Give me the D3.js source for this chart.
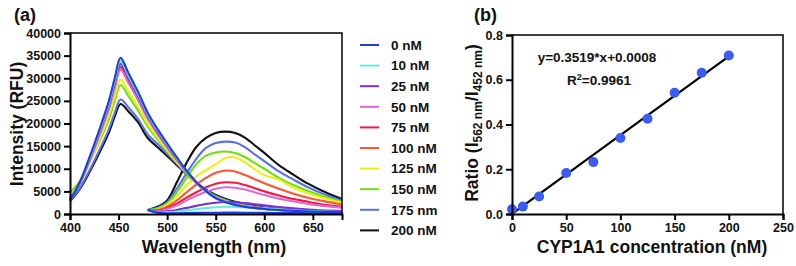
<!DOCTYPE html>
<html>
<head>
<meta charset="utf-8">
<title>Spectra and ratio</title>
<script src="https://d3js.org/d3.v7.min.js"></script>
<style>
  body { margin: 0; background: #fff; font-family: 'Liberation Sans', Arial, sans-serif; }
  .axis path, .axis line { stroke: #000; stroke-width: 2px; }
  .axis text { font-size: 12.5px; font-weight: bold; fill: #111; font-family: 'Liberation Sans', Arial, sans-serif; }
  .frame { fill: none; stroke: #000; stroke-width: 1.5px; }
  .lbl { font-weight: bold; fill: #111; }
  path.spec { fill: none; stroke-width: 2.1px; stroke-linejoin: round; }
</style>
</head>
<body>
<div id="chart"></div>
<script>
// concentrations (legend) and line colours
var concLabels = ["0 nM", "10 nM", "25 nM", "50 nM", "75 nM", "100 nM", "125 nM", "150 nM", "175 nm", "200 nM"];
var concColors = ["#1c3ee0", "#62efd0", "#7a30d0", "#d86ad8", "#ff1444", "#ff5533", "#eeee12", "#6ee012", "#5b6ef0", "#111111"];

// donor band, 400-680 nm
var donorWl = [400, 410, 420, 430, 440, 446, 452, 460, 470, 480, 490, 500, 510, 520, 535, 550, 570, 600, 640, 680];
var donor_0   = [3000, 7000, 12500, 18500, 25000, 30000, 34500, 31200, 27000, 22400, 18800, 15600, 12500, 9600, 6000, 3500, 2000, 1100, 600, 350];
var donor_10  = [3100, 7000, 12300, 18200, 24500, 29400, 33800, 30600, 26500, 22000, 18500, 15300, 12300, 9500, 5900, 3500, 2000, 1100, 620, 360];
var donor_25  = [3200, 6900, 12100, 17900, 24100, 28900, 33200, 30100, 26100, 21700, 18200, 15100, 12200, 9400, 5900, 3500, 2000, 1100, 620, 370];
var donor_50  = [3300, 6800, 11700, 17300, 23200, 27800, 31900, 29000, 25200, 21000, 17700, 14700, 11900, 9300, 5900, 3600, 2100, 1150, 640, 380];
var donor_75  = [3200, 6800, 11900, 17600, 23700, 28400, 32600, 29600, 25700, 21400, 18000, 14900, 12000, 9300, 5900, 3500, 2050, 1120, 630, 370];
var donor_100 = [3400, 6900, 11800, 17400, 23400, 28000, 32100, 29200, 25400, 21200, 17800, 14800, 12000, 9300, 5900, 3600, 2100, 1150, 640, 390];
var donor_125 = [3600, 6700, 11200, 16300, 21700, 26000, 29700, 27100, 23700, 19900, 16900, 14100, 11500, 9100, 5900, 3700, 2200, 1200, 680, 400];
var donor_150 = [4700, 7300, 11300, 15900, 20900, 25000, 28500, 26100, 22900, 19300, 16500, 13800, 11300, 9000, 5900, 3800, 2300, 1250, 700, 420];
var donor_175 = [2900, 5700, 9600, 14000, 18700, 22300, 25300, 23600, 21000, 17600, 15500, 13300, 11100, 8900, 6000, 4000, 2500, 1350, 750, 450];
var donor_200 = [2800, 5500, 9200, 13400, 18000, 21500, 24300, 22700, 20300, 16800, 14800, 12800, 10800, 8800, 6100, 4200, 2700, 1450, 800, 480];

// acceptor band, 480-680 nm
var accWl = [480, 490, 500, 510, 520, 530, 540, 550, 560, 570, 580, 590, 600, 615, 630, 645, 660, 680];
var acc_0   = [900, 300, 150, 170, 200, 240, 270, 290, 300, 300, 290, 270, 250, 220, 200, 180, 160, 150];
var acc_10  = [900, 350, 400, 560, 800, 1050, 1300, 1500, 1600, 1580, 1480, 1330, 1180, 980, 800, 660, 540, 450];
var acc_25  = [900, 450, 600, 900, 1350, 1800, 2200, 2500, 2650, 2600, 2400, 2150, 1900, 1550, 1250, 1000, 800, 650];
var acc_50  = [900, 650, 1100, 1900, 3000, 4000, 4900, 5600, 5900, 5800, 5400, 4800, 4200, 3400, 2800, 2200, 1800, 1400];
var acc_75  = [900, 750, 1300, 2300, 3600, 4800, 5900, 6700, 7000, 6900, 6400, 5700, 5000, 4100, 3300, 2700, 2100, 1600];
var acc_100 = [900, 850, 1600, 3000, 4800, 6500, 8000, 9100, 9600, 9400, 8600, 7700, 6800, 5600, 4500, 3600, 2900, 2100];
var acc_125 = [900, 1000, 2000, 3900, 6300, 8300, 9700, 11000, 12400, 12500, 11400, 9900, 8600, 7600, 5800, 4600, 3600, 2500];
var acc_150 = [900, 1200, 2300, 4800, 8000, 11000, 12900, 13600, 13800, 13500, 12600, 11300, 10000, 8000, 6400, 5100, 4000, 2700];
var acc_175 = [900, 1400, 2600, 5600, 9000, 12200, 14600, 15700, 16000, 15800, 14800, 13200, 11700, 9400, 7600, 5900, 4500, 3000];
var acc_200 = [900, 1600, 3000, 7000, 11300, 14800, 16800, 17900, 18200, 17900, 16900, 15200, 13500, 10800, 8700, 6700, 5100, 3300];

// panel b: ratio vs concentration
var cypConc  = [0, 10, 25, 50, 75, 100, 125, 150, 175, 200];
var cypRatio = [0.021, 0.033, 0.078, 0.183, 0.232, 0.340, 0.426, 0.542, 0.631, 0.708];
var fitCoef  = [0.003519, 0.0008];   // slope per nM, intercept
var fitRange = [0, 200];

var donors = [donor_0, donor_10, donor_25, donor_50, donor_75, donor_100, donor_125, donor_150, donor_175, donor_200];
var accs = [acc_0, acc_10, acc_25, acc_50, acc_75, acc_100, acc_125, acc_150, acc_175, acc_200];

var width = 796, height = 266;

var svg = d3.select("#chart").append("svg")
    .attr("width", width)
    .attr("height", height);

// ---------- panel (a) ----------
var xa = d3.scaleLinear().domain([400, 680]).range([70, 342]);
var ya = d3.scaleLinear().domain([0, 40000]).range([214, 33]);

var line = d3.line()
    .x(function(d) { return xa(d[0]); })
    .y(function(d) { return ya(d[1]); })
    .curve(d3.curveCatmullRom.alpha(0.5));

var series = [];
// draw 200 nM first so 0 nM ends on top
for (var i = donors.length - 1; i >= 0; i--) {
  series.push({ c: concColors[i], pts: d3.zip(donorWl, donors[i]) });
  series.push({ c: concColors[i], pts: d3.zip(accWl, accs[i]) });
}

svg.append("g").selectAll("path.spec")
    .data(series)
  .enter().append("path")
    .attr("class", "spec")
    .attr("stroke", function(d) { return d.c; })
    .attr("d", function(d) { return line(d.pts); });

svg.append("path")
    .attr("class", "frame")
    .attr("d", "M" + xa(400) + "," + ya(40000) + "H" + xa(680) + "V" + ya(0));

svg.append("g")
    .attr("class", "axis")
    .attr("transform", "translate(" + xa(400) + ",0)")
    .call(d3.axisLeft(ya).tickValues(d3.range(0, 40001, 5000)).tickFormat(d3.format("d")).tickSizeOuter(0).tickSize(6).tickPadding(3));

svg.append("g")
    .attr("class", "axis")
    .attr("transform", "translate(0," + ya(0) + ")")
    .call(d3.axisBottom(xa).tickValues([400, 450, 500, 550, 600, 650]).tickSizeOuter(0).tickSize(6).tickPadding(3));

svg.append("text").attr("class", "lbl")
    .attr("x", 14).attr("y", 21)
    .style("font-size", "18px")
    .text("(a)");

svg.append("text").attr("class", "lbl")
    .attr("transform", "translate(23,124) rotate(-90)")
    .attr("text-anchor", "middle")
    .style("font-size", "17.5px")
    .text("Intensity (RFU)");

svg.append("text").attr("class", "lbl")
    .attr("x", 214).attr("y", 253)
    .attr("text-anchor", "middle")
    .style("font-size", "18px")
    .text("Wavelength (nm)");

// legend
var leg = svg.append("g").selectAll("g")
    .data(concLabels)
  .enter().append("g")
    .attr("transform", function(d, i) { return "translate(360," + (45 + i * 20.6) + ")"; });
leg.append("line")
    .attr("x1", 0).attr("x2", 19)
    .attr("stroke", function(d, i) { return concColors[i]; })
    .attr("stroke-width", 2);
leg.append("text").attr("class", "lbl")
    .attr("x", 31).attr("dy", "0.35em")
    .style("font-size", "13.5px")
    .text(function(d) { return d; });

// ---------- panel (b) ----------
var xb = d3.scaleLinear().domain([0, 250]).range([512, 783]);
var yb = d3.scaleLinear().domain([0, 0.8]).range([214, 35]);

svg.append("path")
    .attr("class", "frame")
    .attr("d", "M" + xb(0) + "," + yb(0.8) + "H" + xb(250) + "V" + yb(0));

svg.append("line")
    .attr("x1", xb(fitRange[0])).attr("y1", yb(fitCoef[0] * fitRange[0] + fitCoef[1]))
    .attr("x2", xb(fitRange[1])).attr("y2", yb(fitCoef[0] * fitRange[1] + fitCoef[1]))
    .attr("stroke", "#000")
    .attr("stroke-width", 2.2);

svg.append("g").selectAll("circle")
    .data(d3.zip(cypConc, cypRatio))
  .enter().append("circle")
    .attr("cx", function(d) { return xb(d[0]); })
    .attr("cy", function(d) { return yb(d[1]); })
    .attr("r", 5)
    .attr("fill", "#3a5cf2");

svg.append("g")
    .attr("class", "axis")
    .attr("transform", "translate(" + xb(0) + ",0)")
    .call(d3.axisLeft(yb).tickValues([0, 0.2, 0.4, 0.6, 0.8]).tickFormat(d3.format(".1f")).tickSizeOuter(0).tickSize(6).tickPadding(3));

svg.append("g")
    .attr("class", "axis")
    .attr("transform", "translate(0," + yb(0) + ")")
    .call(d3.axisBottom(xb).tickValues([0, 50, 100, 150, 200, 250]).tickSizeOuter(0).tickSize(6).tickPadding(3));

svg.append("text").attr("class", "lbl")
    .attr("x", 474).attr("y", 21)
    .style("font-size", "18px")
    .text("(b)");

var ylab = svg.append("text").attr("class", "lbl")
    .attr("transform", "translate(478,123) rotate(-90)")
    .attr("text-anchor", "middle")
    .style("font-size", "17.5px");
ylab.append("tspan").text("Ratio (I");
ylab.append("tspan").attr("dy", 4).style("font-size", "12px").text("562 nm");
ylab.append("tspan").attr("dy", -4).text("/I");
ylab.append("tspan").attr("dy", 4).style("font-size", "12px").text("452 nm");
ylab.append("tspan").attr("dy", -4).text(")");

svg.append("text").attr("class", "lbl")
    .attr("x", 652).attr("y", 253)
    .attr("text-anchor", "middle")
    .style("font-size", "17.5px")
    .text("CYP1A1 concentration (nM)");

svg.append("text").attr("class", "lbl")
    .attr("x", 597).attr("y", 62)
    .attr("text-anchor", "middle")
    .style("font-size", "13.5px")
    .text("y=0.3519*x+0.0008");

var r2 = svg.append("text").attr("class", "lbl")
    .attr("x", 599).attr("y", 85)
    .attr("text-anchor", "middle")
    .style("font-size", "13.5px");
r2.append("tspan").text("R");
r2.append("tspan").attr("dy", -5).style("font-size", "9px").text("2");
r2.append("tspan").attr("dy", 5).text("=0.9961");
</script>
</body>
</html>
